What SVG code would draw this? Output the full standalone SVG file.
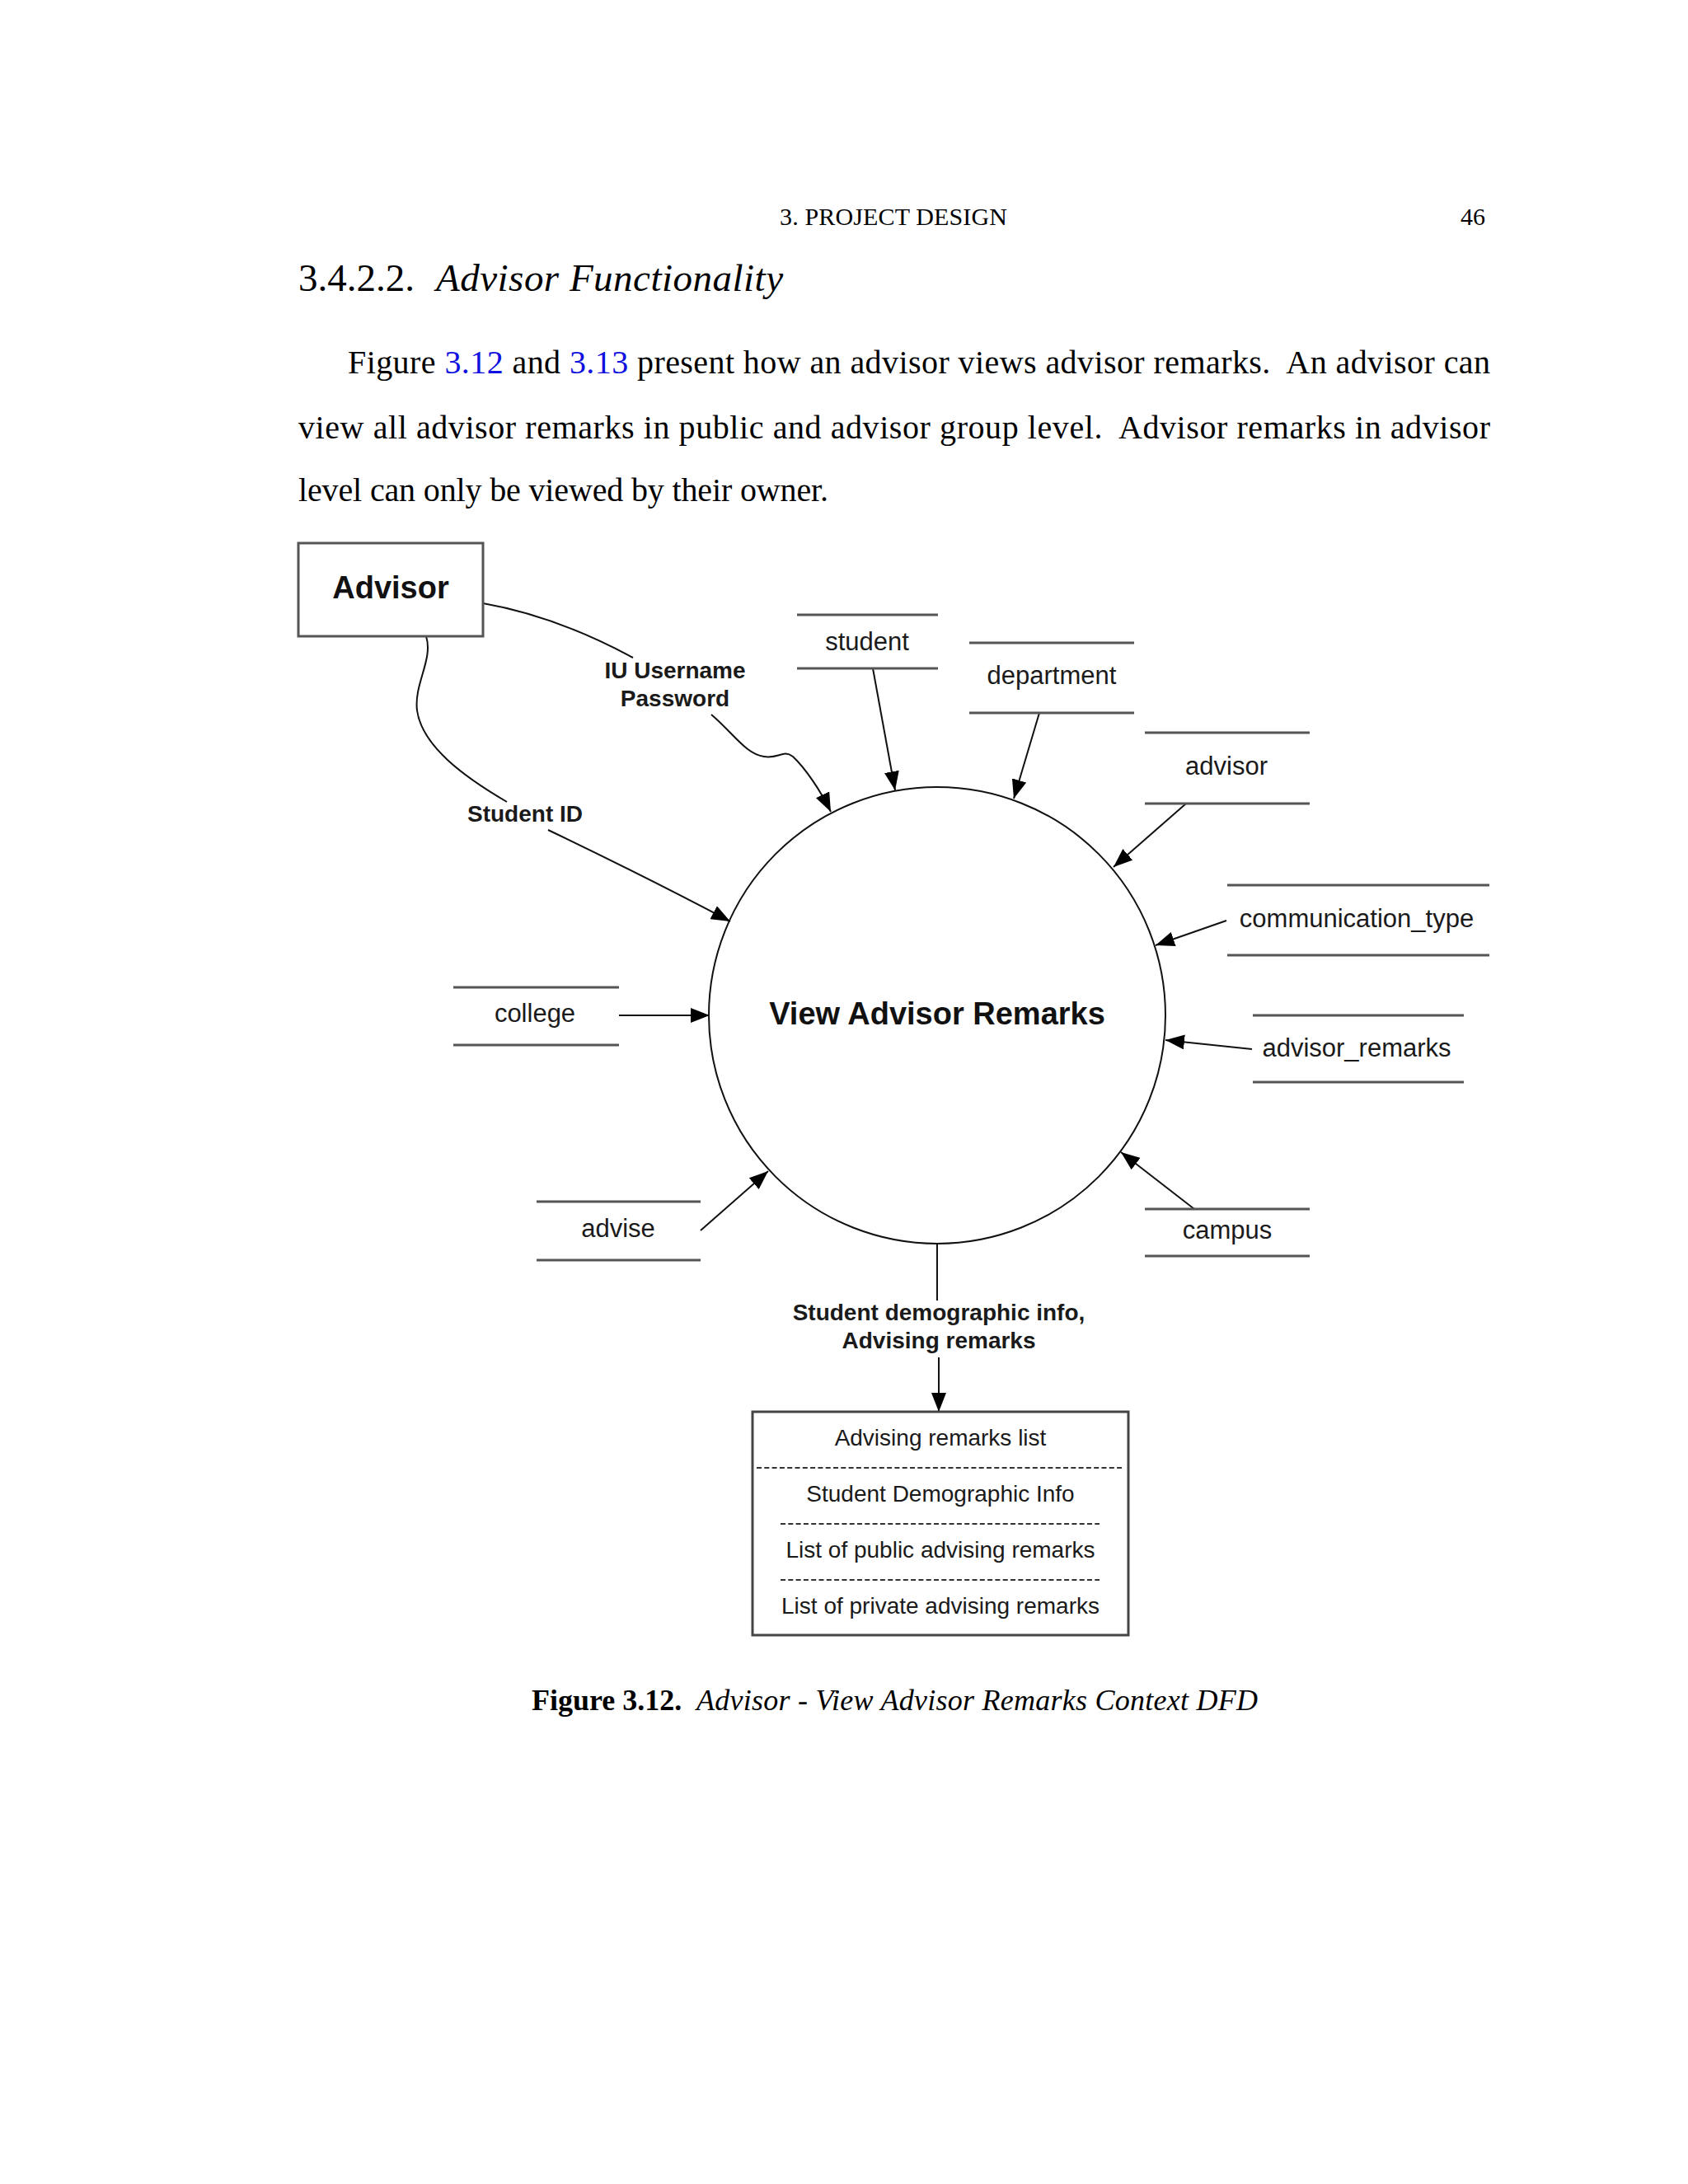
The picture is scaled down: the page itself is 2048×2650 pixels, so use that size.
<svg xmlns="http://www.w3.org/2000/svg" width="2048" height="2650" viewBox="0 0 2048 2650">
<style>
.page{font-family:"Liberation Serif","Times New Roman",serif;fill:#000}
.lbl{font-family:"Liberation Sans",Arial,sans-serif;font-size:31px;fill:#1a1a1a;text-anchor:middle}
.flow{font-family:"Liberation Sans",Arial,sans-serif;font-size:28px;font-weight:bold;fill:#1a1a1a;text-anchor:middle}
.box{font-family:"Liberation Sans",Arial,sans-serif;font-size:28px;fill:#1a1a1a;text-anchor:middle}
.store{stroke:#555;stroke-width:3;fill:none}
.conn{stroke:#111;stroke-width:2;fill:none}
.arr{marker-end:url(#ah)}
.dash{stroke:#333;stroke-width:2;stroke-dasharray:6 3.3}
</style>
<defs>
<marker id="ah" markerUnits="userSpaceOnUse" markerWidth="24" markerHeight="18" refX="23" refY="9" orient="auto">
<path d="M0,0 L23,9 L0,18 z" fill="#000"/>
</marker>
</defs>
<rect width="2048" height="2650" fill="#fff"/>

<g id="page-text" class="page">
<text x="946" y="273" font-size="30" textLength="276">3. PROJECT DESIGN</text>
<text x="1772" y="273" font-size="30">46</text>
<text x="362" y="353" font-size="47">3.4.2.2.</text>
<text x="529" y="353" font-size="47" font-style="italic" textLength="421">Advisor Functionality</text>
<text x="422" y="453" font-size="40" textLength="1386" lengthAdjust="spacing">Figure <tspan fill="#1010e0">3.12</tspan> and <tspan fill="#1010e0">3.13</tspan> present how an advisor views advisor remarks.&#160; An advisor can</text>
<text x="362" y="532" font-size="40" textLength="1446" lengthAdjust="spacing">view all advisor remarks in public and advisor group level.&#160; Advisor remarks in advisor</text>
<text x="362" y="608" font-size="40" textLength="643" lengthAdjust="spacing">level can only be viewed by their owner.</text>
<text x="645" y="2075" font-size="36" font-weight="bold">Figure 3.12.</text>
<text x="845" y="2075" font-size="36" font-style="italic" textLength="681" lengthAdjust="spacing">Advisor - View Advisor Remarks Context DFD</text>
</g>

<g id="connectors">
<path class="conn" d="M586,732 C660,745 720,772 768,798"/>
<path class="conn arr" d="M863,867 C890,890 905,915 927,918 C945,921 950,909 962,918 C977,932 996,960 1008,985"/>
<path class="conn" d="M517,772 C526,800 502,830 506,862 C512,905 562,942 615,973"/>
<path class="conn arr" d="M665,1007 C740,1043 820,1083 886,1118"/>
<path class="conn arr" d="M1059,811 L1086,959"/>
<path class="conn arr" d="M1261,865 L1230,969"/>
<path class="conn arr" d="M1439,975 L1351,1052"/>
<path class="conn arr" d="M1488,1117 L1402,1147"/>
<path class="conn arr" d="M1519,1273 L1414,1262"/>
<path class="conn arr" d="M1449,1467 L1360,1398"/>
<path class="conn arr" d="M751,1232 L861,1232"/>
<path class="conn arr" d="M850,1493 L932,1421"/>
<path class="conn" d="M1137,1510 L1137,1578"/>
<path class="conn arr" d="M1139,1647 L1139,1713"/>
<text class="flow" x="819" y="823">IU Username</text>
<text class="flow" x="819" y="857">Password</text>
<text class="flow" x="637" y="997">Student ID</text>
<text class="flow" x="1139" y="1602">Student demographic info,</text>
<text class="flow" x="1139" y="1636">Advising remarks</text>
</g>

<g id="advisor-entity">
<rect x="362" y="659" width="224" height="113" fill="#fff" stroke="#555" stroke-width="3"/>
<text x="474" y="726" font-family="'Liberation Sans',Arial,sans-serif" font-size="38" font-weight="bold" fill="#111" text-anchor="middle">Advisor</text>
</g>

<g id="process">
<circle cx="1137" cy="1232" r="277" fill="none" stroke="#111" stroke-width="2"/>
<text x="1137" y="1243" font-family="'Liberation Sans',Arial,sans-serif" font-size="38" font-weight="bold" fill="#111" text-anchor="middle">View Advisor Remarks</text>
</g>

<g id="store-student">
<line class="store" x1="967" y1="746" x2="1138" y2="746"/>
<line class="store" x1="967" y1="811" x2="1138" y2="811"/>
<text class="lbl" x="1052" y="789">student</text>
</g>
<g id="store-department">
<line class="store" x1="1176" y1="780" x2="1376" y2="780"/>
<line class="store" x1="1176" y1="865" x2="1376" y2="865"/>
<text class="lbl" x="1276" y="830">department</text>
</g>
<g id="store-advisor">
<line class="store" x1="1389" y1="889" x2="1589" y2="889"/>
<line class="store" x1="1389" y1="975" x2="1589" y2="975"/>
<text class="lbl" x="1488" y="940">advisor</text>
</g>
<g id="store-communication_type">
<line class="store" x1="1489" y1="1074" x2="1807" y2="1074"/>
<line class="store" x1="1489" y1="1159" x2="1807" y2="1159"/>
<text class="lbl" x="1646" y="1125">communication_type</text>
</g>
<g id="store-advisor_remarks">
<line class="store" x1="1520" y1="1232" x2="1776" y2="1232"/>
<line class="store" x1="1520" y1="1313" x2="1776" y2="1313"/>
<text class="lbl" x="1646" y="1282">advisor_remarks</text>
</g>
<g id="store-campus">
<line class="store" x1="1389" y1="1467" x2="1589" y2="1467"/>
<line class="store" x1="1389" y1="1524" x2="1589" y2="1524"/>
<text class="lbl" x="1489" y="1503">campus</text>
</g>
<g id="store-college">
<line class="store" x1="550" y1="1198" x2="751" y2="1198"/>
<line class="store" x1="550" y1="1268" x2="751" y2="1268"/>
<text class="lbl" x="649" y="1240">college</text>
</g>
<g id="store-advise">
<line class="store" x1="651" y1="1458" x2="850" y2="1458"/>
<line class="store" x1="651" y1="1529" x2="850" y2="1529"/>
<text class="lbl" x="750" y="1501">advise</text>
</g>

<g id="output-screen">
<rect x="913" y="1713" width="456" height="271" fill="none" stroke="#444" stroke-width="3"/>
<text class="box" x="1141" y="1754">Advising remarks list</text>
<line class="dash" x1="918" y1="1781" x2="1362" y2="1781"/>
<text class="box" x="1141" y="1822">Student Demographic Info</text>
<line class="dash" x1="947" y1="1849" x2="1334" y2="1849"/>
<text class="box" x="1141" y="1890">List of public advising remarks</text>
<line class="dash" x1="947" y1="1917" x2="1334" y2="1917"/>
<text class="box" x="1141" y="1958">List of private advising remarks</text>
</g>
</svg>
